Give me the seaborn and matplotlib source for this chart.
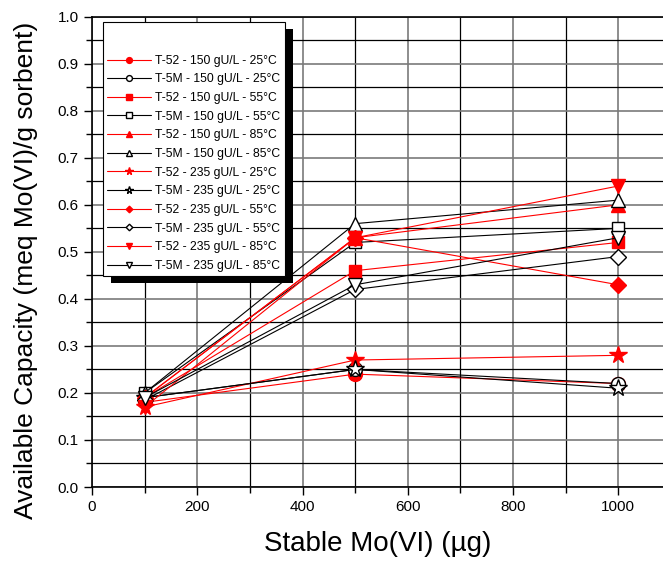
import matplotlib
matplotlib.use("Agg")
import matplotlib.pyplot as plt
import seaborn as sns
from matplotlib.ticker import MultipleLocator
from matplotlib.patches import Rectangle

x_mo = [100, 500, 1000]

labels = [
    "T-52 - 150 gU/L - 25°C", "T-5M - 150 gU/L - 25°C",
    "T-52 - 150 gU/L - 55°C", "T-5M - 150 gU/L - 55°C",
    "T-52 - 150 gU/L - 85°C", "T-5M - 150 gU/L - 85°C",
    "T-52 - 235 gU/L - 25°C", "T-5M - 235 gU/L - 25°C",
    "T-52 - 235 gU/L - 55°C", "T-5M - 235 gU/L - 55°C",
    "T-52 - 235 gU/L - 85°C", "T-5M - 235 gU/L - 85°C",
]
t52_150_25 = [0.18, 0.24, 0.22]
t5m_150_25 = [0.19, 0.25, 0.22]
t52_150_55 = [0.19, 0.46, 0.52]
t5m_150_55 = [0.20, 0.52, 0.55]
t52_150_85 = [0.19, 0.53, 0.60]
t5m_150_85 = [0.20, 0.56, 0.61]
t52_235_25 = [0.17, 0.27, 0.28]
t5m_235_25 = [0.19, 0.25, 0.21]
t52_235_55 = [0.19, 0.53, 0.43]
t5m_235_55 = [0.185, 0.42, 0.49]
t52_235_85 = [0.17, 0.53, 0.64]
t5m_235_85 = [0.19, 0.43, 0.53]

series = [t52_150_25, t5m_150_25, t52_150_55, t5m_150_55, t52_150_85, t5m_150_85,
          t52_235_25, t5m_235_25, t52_235_55, t5m_235_55, t52_235_85, t5m_235_85]
markers = ["o", "o", "s", "s", "^", "^", "*", "*", "D", "D", "v", "v"]
msizes = [10, 10, 9, 9, 10, 10, 13, 13, 8, 8, 10, 10]

sns.set_style("white")
plt.rcParams["font.family"] = ["Liberation Sans", "DejaVu Sans"]
plt.rcParams["text.color"] = "black"
plt.rcParams["axes.labelcolor"] = "black"

fig = plt.figure(figsize=(6.63, 5.61), dpi=100)
ax = fig.add_axes([0.1388, 0.1319, 0.8612, 0.8383])

for i, (vals, lab, mk, ms) in enumerate(zip(series, labels, markers, msizes)):
    red = i % 2 == 0
    col = "red" if red else "black"
    sns.lineplot(x=x_mo, y=vals, ax=ax, color=col, lw=0.8, marker=mk, markersize=ms,
                 markerfacecolor="red" if red else "white",
                 markeredgecolor="red" if red else "black", markeredgewidth=1,
                 label=lab, zorder=3 + i)

ax.set_xlim(0, 1085)
ax.set_ylim(0, 1.0)
ax.xaxis.set_major_locator(MultipleLocator(200))
ax.xaxis.set_minor_locator(MultipleLocator(100))
ax.yaxis.set_major_locator(MultipleLocator(0.1))
ax.yaxis.set_minor_locator(MultipleLocator(0.05))
ax.yaxis.set_major_formatter(matplotlib.ticker.FormatStrFormatter("%.1f"))
ax.grid(which="major", color="#7a7a7a", lw=1.2)
ax.grid(which="minor", color="black", lw=0.9)
ax.set_axisbelow(True)
ax.tick_params(which="both", direction="out", top=False, right=False, labelsize=11,
               width=1, color="black", labelcolor="black")
ax.tick_params(which="major", length=6)
ax.tick_params(which="minor", length=4)
ax.tick_params(which="both", bottom=True, left=True)
ax.spines["right"].set_visible(False)
for s in ["left", "bottom", "top"]:
    ax.spines[s].set_color("black")
    ax.spines[s].set_linewidth(1.2)

ax.set_xlabel("Stable Mo(VI) (µg)", fontsize=20, labelpad=12)
ax.set_ylabel("Available Capacity (meq Mo(VI)/g sorbent)", fontsize=19)
ax.yaxis.set_label_coords(-0.095, 0.461)

leg = ax.legend(loc="upper left", bbox_to_anchor=(0.019, 0.989), borderaxespad=0,
                fontsize=8.7, markerscale=0.42,
                handlelength=3.6, handletextpad=0.4, labelspacing=0.55, borderpad=0.35,
                title=" ", title_fontsize=17, frameon=True, fancybox=False,
                edgecolor="black", framealpha=1)
leg.get_frame().set_linewidth(0.8)
leg.set_zorder(20)

# black drop shadow behind the legend box
fig.canvas.draw()
bb = leg.get_window_extent()
shadow = Rectangle((bb.x0 + 8, bb.y0 - 7), bb.width, bb.height, transform=None,
                   facecolor="black", edgecolor="none", zorder=19)
ax.add_artist(shadow)

plt.savefig("out.png", dpi=100)
